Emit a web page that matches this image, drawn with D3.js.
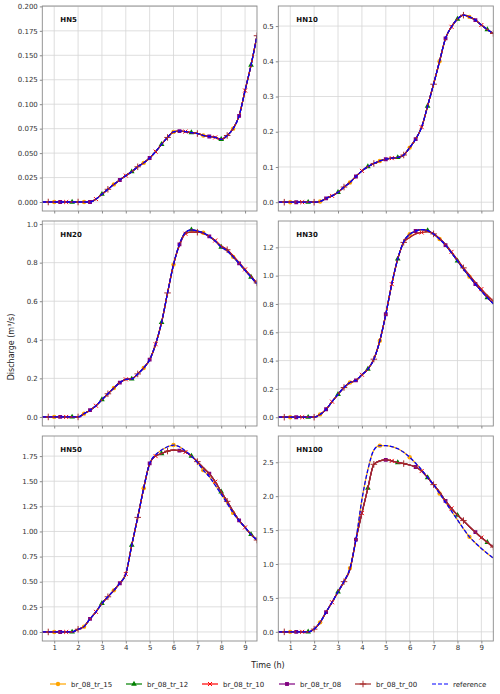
<!DOCTYPE html>
<html>
<head>
<meta charset="utf-8">
<script src="https://cdn.jsdelivr.net/npm/d3@7"></script>
<style>
body { margin: 0; background: #fff; }
svg { display: block; font-family: "DejaVu Sans", sans-serif; }
</style>
</head>
<body>
<svg width="500" height="694"></svg>
<script>
// time steps (h)
var times = [0.5, 0.75, 1.0, 1.25, 1.5, 1.75, 2.0, 2.25, 2.5, 2.75, 3.0, 3.25, 3.5, 3.75, 4.0, 4.25,
	4.5, 4.75, 5.0, 5.25, 5.5, 5.75, 6.0, 6.25, 6.5, 6.75, 7.0, 7.25, 7.5, 7.75, 8.0, 8.25, 8.5,
	8.75, 9.0, 9.25, 9.5];
var xTicks = [1, 2, 3, 4, 5, 6, 7, 8, 9];

var seriesNames = ["br_08_tr_15", "br_08_tr_12", "br_08_tr_10", "br_08_tr_08", "br_08_tr_00", "reference"];

// discharge (m3/s) per panel : "ref" curve and "low" curve (variants that depart from reference)
var hn5Ref = [0, 0, 0, 0, 0, 0, 0, 0, 0, 0.003, 0.008, 0.013, 0.018, 0.0225, 0.027, 0.031, 0.036, 0.040,
	0.045, 0.0515, 0.059, 0.066, 0.0717, 0.0725, 0.072, 0.071, 0.070, 0.068, 0.067, 0.066, 0.064,
	0.068, 0.075, 0.088, 0.114, 0.140, 0.170];
var hn10Ref = [0, 0, 0, 0, 0, 0, 0, 0.002, 0.011, 0.018, 0.028, 0.043, 0.056, 0.073, 0.089, 0.101, 0.110,
	0.117, 0.122, 0.125, 0.127, 0.134, 0.155, 0.179, 0.213, 0.273, 0.335, 0.400, 0.465, 0.498, 0.520,
	0.531, 0.526, 0.517, 0.503, 0.490, 0.479];
var hn20Ref = [0, 0, 0, 0, 0, 0, 0, 0.017, 0.035, 0.058, 0.090, 0.120, 0.150, 0.178, 0.195, 0.197, 0.223,
	0.254, 0.297, 0.377, 0.490, 0.643, 0.790, 0.895, 0.957, 0.970, 0.964, 0.955, 0.936, 0.912, 0.881,
	0.862, 0.830, 0.796, 0.760, 0.725, 0.690];
var hn20Low = [0, 0, 0, 0, 0, 0, 0, 0.017, 0.035, 0.058, 0.090, 0.120, 0.150, 0.178, 0.195, 0.197, 0.223,
	0.254, 0.297, 0.377, 0.490, 0.643, 0.790, 0.890, 0.950, 0.958, 0.958, 0.952, 0.937, 0.915, 0.887,
	0.867, 0.835, 0.800, 0.765, 0.730, 0.695];
var hn30Ref = [0, 0, 0, 0, 0, 0, 0, 0.020, 0.056, 0.110, 0.162, 0.210, 0.245, 0.260, 0.300, 0.340, 0.410,
	0.540, 0.727, 0.940, 1.118, 1.240, 1.292, 1.315, 1.325, 1.318, 1.294, 1.259, 1.216, 1.162, 1.104,
	1.047, 0.993, 0.941, 0.892, 0.845, 0.802];
var hn30Low = [0, 0, 0, 0, 0, 0, 0, 0.020, 0.056, 0.110, 0.162, 0.210, 0.245, 0.260, 0.300, 0.340, 0.410,
	0.540, 0.727, 0.940, 1.118, 1.235, 1.270, 1.295, 1.305, 1.310, 1.295, 1.262, 1.220, 1.168, 1.112,
	1.055, 1.003, 0.952, 0.905, 0.860, 0.820];
var hn50Ref = [0, 0, 0, 0, 0, 0, 0.027, 0.053, 0.130, 0.200, 0.285, 0.350, 0.414, 0.485, 0.577, 0.865, 1.140,
	1.430, 1.677, 1.763, 1.810, 1.843, 1.860, 1.843, 1.800, 1.750, 1.687, 1.610, 1.545, 1.460, 1.370,
	1.280, 1.185, 1.107, 1.040, 0.970, 0.915];
var hn50Low = [0, 0, 0, 0, 0, 0, 0.027, 0.053, 0.130, 0.200, 0.285, 0.350, 0.414, 0.485, 0.577, 0.865, 1.140,
	1.430, 1.677, 1.750, 1.775, 1.800, 1.810, 1.805, 1.790, 1.750, 1.695, 1.635, 1.575, 1.495, 1.395,
	1.300, 1.200, 1.110, 1.040, 0.970, 0.915];
var hn100Ref = [0, 0, 0, 0, 0, 0, 0.040, 0.140, 0.290, 0.436, 0.590, 0.745, 0.940, 1.360, 1.950, 2.390, 2.680,
	2.745, 2.745, 2.730, 2.700, 2.647, 2.574, 2.485, 2.387, 2.275, 2.167, 2.040, 1.910, 1.780, 1.650,
	1.520, 1.400, 1.310, 1.230, 1.155, 1.088];
var hn100Low = [0, 0, 0, 0, 0, 0, 0.040, 0.140, 0.290, 0.436, 0.590, 0.740, 0.920, 1.360, 1.750, 2.120, 2.470,
	2.520, 2.535, 2.520, 2.495, 2.480, 2.460, 2.430, 2.370, 2.275, 2.170, 2.060, 1.930, 1.820, 1.720,
	1.640, 1.550, 1.470, 1.390, 1.320, 1.250];

// which curve each series follows, in seriesNames order
var hn5Groups = ["ref", "ref", "ref", "ref", "ref", "ref"];
var hn10Groups = ["ref", "ref", "ref", "ref", "ref", "ref"];
var hn20Groups = ["ref", "ref", "low", "ref", "low", "ref"];
var hn30Groups = ["ref", "ref", "low", "ref", "low", "ref"];
var hn50Groups = ["ref", "low", "low", "low", "low", "ref"];
var hn100Groups = ["ref", "low", "low", "low", "low", "ref"];

var hn5Ticks = [0, 0.025, 0.05, 0.075, 0.1, 0.125, 0.15, 0.175, 0.2];
var hn10Ticks = [0, 0.1, 0.2, 0.3, 0.4, 0.5];
var hn20Ticks = [0, 0.2, 0.4, 0.6, 0.8, 1.0];
var hn30Ticks = [0, 0.2, 0.4, 0.6, 0.8, 1.0, 1.2];
var hn50Ticks = [0, 0.25, 0.5, 0.75, 1.0, 1.25, 1.5, 1.75];
var hn100Ticks = [0, 0.5, 1.0, 1.5, 2.0, 2.5];

var panels = [
	{name: "HN5", ref: hn5Ref, low: hn5Ref, groups: hn5Groups, ticks: hn5Ticks, fmt: ".3f", dom: [-0.0092, 0.2004]},
	{name: "HN10", ref: hn10Ref, low: hn10Ref, groups: hn10Groups, ticks: hn10Ticks, fmt: ".1f", dom: [-0.025, 0.557]},
	{name: "HN20", ref: hn20Ref, low: hn20Low, groups: hn20Groups, ticks: hn20Ticks, fmt: ".1f", dom: [-0.047, 1.016]},
	{name: "HN30", ref: hn30Ref, low: hn30Low, groups: hn30Groups, ticks: hn30Ticks, fmt: ".1f", dom: [-0.062, 1.386]},
	{name: "HN50", ref: hn50Ref, low: hn50Low, groups: hn50Groups, ticks: hn50Ticks, fmt: ".2f", dom: [-0.09, 1.95]},
	{name: "HN100", ref: hn100Ref, low: hn100Low, groups: hn100Groups, ticks: hn100Ticks, fmt: ".1f", dom: [-0.135, 2.887]}
];

var colors = ["orange", "green", "red", "purple", "#a52a2a", "blue"];
var symbols = [d3.symbolCircle, d3.symbolTriangle, d3.symbolTimes, d3.symbolSquare, d3.symbolPlus, null];
var symbolSizes = [15, 14, 12, 15, 16, 0];
var markStart = [2, 5, 4, 3, 1, 0]; // first marked index; then every 5 steps

var colX = [[42.3, 257], [278.3, 493.3]];
var rowY = [[6, 211], [221, 426], [436, 641]];

var svg = d3.select("svg");
var spine = "#8a8a8a", gridC = "#d6d6d6", tickText = "#333";

panels.forEach(function(p, i) {
	var col = i % 2, row = Math.floor(i / 2);
	var x0 = colX[col][0], x1 = colX[col][1], y0 = rowY[row][0], y1 = rowY[row][1];
	var xScale = d3.scaleLinear().domain([0.5, 9.5]).range([x0, x1]);
	var yScale = d3.scaleLinear().domain(p.dom).range([y1, y0]);
	var g = svg.append("g");

	// grid
	g.selectAll(".gx").data(xTicks).enter().append("line")
		.attr("x1", d => xScale(d)).attr("x2", d => xScale(d))
		.attr("y1", y0).attr("y2", y1)
		.attr("stroke", gridC).attr("stroke-width", 0.8);
	g.selectAll(".gy").data(p.ticks).enter().append("line")
		.attr("x1", x0).attr("x2", x1)
		.attr("y1", d => yScale(d)).attr("y2", d => yScale(d))
		.attr("stroke", gridC).attr("stroke-width", 0.8);

	// axes
	var yAxis = d3.axisLeft(yScale).tickValues(p.ticks).tickFormat(d3.format(p.fmt))
		.tickSize(2.5).tickPadding(2);
	var ya = g.append("g").attr("transform", `translate(${x0},0)`).call(yAxis);
	var xAxis = d3.axisBottom(xScale).tickValues(xTicks).tickSize(2.5).tickPadding(2)
		.tickFormat(row === 2 ? d3.format("d") : "");
	var xa = g.append("g").attr("transform", `translate(0,${y1})`).call(xAxis);
	[ya, xa].forEach(function(a) {
		a.select(".domain").remove();
		a.selectAll(".tick line").attr("stroke", spine);
		a.selectAll(".tick text").attr("fill", tickText).style("font-size", "7px")
			.style("font-family", "DejaVu Sans");
	});

	// clip
	var cid = "clip" + i;
	g.append("clipPath").attr("id", cid).append("rect")
		.attr("x", x0).attr("y", y0).attr("width", x1 - x0).attr("height", y1 - y0);
	var plot = g.append("g").attr("clip-path", `url(#${cid})`);

	var line = d3.line().x(d => xScale(d[0])).y(d => yScale(d[1])).curve(d3.curveMonotoneX);

	seriesNames.forEach(function(s, k) {
		var vals = p.groups[k] === "ref" ? p.ref : p.low;
		var pts = times.map((t, j) => [t, vals[j]]);
		var path = plot.append("path").datum(pts)
			.attr("d", line).attr("fill", "none")
			.attr("stroke", colors[k]).attr("stroke-width", k === 5 ? 1.3 : 1.2);
		if (k === 5) path.attr("stroke-dasharray", "4,2");
		if (symbols[k]) {
			var marks = pts.filter((d, j) => j >= markStart[k] && (j - markStart[k]) % 5 === 0);
			var stroked = symbols[k] === d3.symbolTimes || symbols[k] === d3.symbolPlus;
			plot.selectAll(".m" + k).data(marks).enter().append("path")
				.attr("transform", d => `translate(${xScale(d[0])},${yScale(d[1])})`)
				.attr("d", d3.symbol().type(symbols[k]).size(symbolSizes[k]))
				.attr("fill", stroked ? "none" : colors[k])
				.attr("stroke", colors[k]).attr("stroke-width", stroked ? 1 : 0);
		}
	});

	// frame
	g.append("rect").attr("x", x0).attr("y", y0).attr("width", x1 - x0).attr("height", y1 - y0)
		.attr("fill", "none").attr("stroke", spine).attr("stroke-width", 0.9);

	g.append("text").attr("x", x0 + 18).attr("y", y0 + 16)
		.style("font-size", "7px").style("font-weight", "bold").attr("fill", "#111")
		.text(p.name);
});

// axis titles
svg.append("text").attr("x", 268).attr("y", 668).attr("text-anchor", "middle")
	.style("font-size", "8px").attr("fill", "#222").text("Time (h)");
svg.append("text").attr("transform", "translate(14,347) rotate(-90)").attr("text-anchor", "middle")
	.style("font-size", "8px").attr("fill", "#222").text("Discharge (m\u00b3/s)");

// legend
var legX = [50, 126, 202, 279, 355, 432];
var leg = svg.append("g").attr("transform", "translate(0,684)");
seriesNames.forEach(function(s, k) {
	var lg = leg.append("g").attr("transform", `translate(${legX[k]},0)`);
	var ln = lg.append("line").attr("x1", 0).attr("x2", 16).attr("y1", 0).attr("y2", 0)
		.attr("stroke", colors[k]).attr("stroke-width", 1.2);
	if (k === 5) ln.attr("stroke-dasharray", "4,2");
	if (symbols[k]) {
		var stroked = symbols[k] === d3.symbolTimes || symbols[k] === d3.symbolPlus;
		lg.append("path").attr("transform", "translate(8,0)")
			.attr("d", d3.symbol().type(symbols[k]).size(symbolSizes[k]))
			.attr("fill", stroked ? "none" : colors[k])
			.attr("stroke", colors[k]).attr("stroke-width", stroked ? 1 : 0);
	}
	lg.append("text").attr("x", 21).attr("y", 2.5).style("font-size", "7px").attr("fill", "#222").text(s);
});
</script>
</body>
</html>
